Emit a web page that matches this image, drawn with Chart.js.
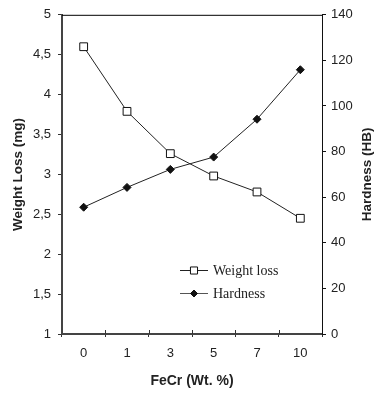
<!DOCTYPE html>
<html>
<head>
<meta charset="utf-8">
<script src="https://cdn.jsdelivr.net/npm/chart.js@4"></script>
<style>
  html, body { margin: 0; padding: 0; background: #fff; }
  #wrap { width: 376px; height: 395px; }
</style>
</head>
<body>
<div id="wrap"><canvas id="c" width="376" height="395"></canvas></div>
<script>
const categories = ['0', '1', '3', '5', '7', '10'];
const weightLoss = [4.60, 3.79, 3.26, 2.98, 2.78, 2.45];
const hardness = [55.6, 64.3, 72.2, 77.6, 94.2, 115.9];
const leftTicks = [1, 1.5, 2, 2.5, 3, 3.5, 4, 4.5, 5];
const rightTicks = [0, 20, 40, 60, 80, 100, 120, 140];

const sans = '"Liberation Sans", Arial, sans-serif';
const serif = '"Liberation Serif", "Times New Roman", serif';

const extras = {
  id: 'extras',
  afterDraw(chart) {
    const ctx = chart.ctx;
    const a = chart.chartArea;
    ctx.save();
    // top frame line
    ctx.strokeStyle = '#000';
    ctx.lineWidth = 1;
    ctx.beginPath();
    ctx.moveTo(a.left, a.top + 0.5);
    ctx.lineTo(a.right, a.top + 0.5);
    ctx.stroke();
    // inner part of x tick marks
    const step = (a.right - a.left) / categories.length;
    ctx.strokeStyle = '#333';
    for (let i = 1; i < categories.length; i++) {
      const x = Math.round(a.left + i * step) + 0.5;
      ctx.beginPath();
      ctx.moveTo(x, a.bottom);
      ctx.lineTo(x, a.bottom - 4);
      ctx.stroke();
    }
    // axis titles
    ctx.fillStyle = '#222';
    ctx.textAlign = 'center';
    ctx.textBaseline = 'middle';
    const cy = (a.top + a.bottom) / 2;
    ctx.font = 'bold 13.5px ' + sans;
    ctx.save();
    ctx.translate(18, cy);
    ctx.rotate(-Math.PI / 2);
    ctx.fillText('Weight Loss (mg)', 0, 0);
    ctx.restore();
    ctx.save();
    ctx.translate(367, cy);
    ctx.rotate(-Math.PI / 2);
    ctx.fillText('Hardness (HB)', 0, 0);
    ctx.restore();
    ctx.font = 'bold 14px ' + sans;
    ctx.fillText('FeCr (Wt. %)', (a.left + a.right) / 2, 381);
    // legend
    const items = [
      { label: 'Weight loss', y: 270, color: '#222', style: 'rect', fill: '#fff', r: 5 },
      { label: 'Hardness', y: 293, color: '#555', style: 'rectRot', fill: '#111', r: 3.5 }
    ];
    items.forEach(it => {
      ctx.strokeStyle = it.color;
      ctx.lineWidth = 1;
      ctx.beginPath();
      ctx.moveTo(180, it.y + 0.5);
      ctx.lineTo(208, it.y + 0.5);
      ctx.stroke();
      ctx.fillStyle = it.fill;
      ctx.strokeStyle = '#111';
      Chart.helpers.drawPoint(ctx, { pointStyle: it.style, radius: it.r, borderWidth: 1 }, 194, it.y + 0.5);
      ctx.fillStyle = '#222';
      ctx.font = '14px ' + serif;
      ctx.textAlign = 'left';
      ctx.fillText(it.label, 213, it.y + 1);
    });
    ctx.restore();
  }
};

new Chart(document.getElementById('c'), {
  type: 'line',
  data: {
    labels: categories,
    datasets: [
      {
        label: 'Weight loss',
        data: weightLoss,
        yAxisID: 'y',
        borderColor: '#222',
        borderWidth: 1,
        pointStyle: 'rect',
        pointRadius: 5.5,
        pointBackgroundColor: '#fff',
        pointBorderColor: '#111',
        pointBorderWidth: 1,
        tension: 0
      },
      {
        label: 'Hardness',
        data: hardness,
        yAxisID: 'y1',
        borderColor: '#222',
        borderWidth: 1,
        pointStyle: 'rectRot',
        pointRadius: 4,
        pointBackgroundColor: '#111',
        pointBorderColor: '#111',
        pointBorderWidth: 1,
        tension: 0
      }
    ]
  },
  options: {
    responsive: false,
    animation: false,
    layout: { padding: { top: 14, left: 0, right: 0, bottom: 0 } },
    plugins: { legend: { display: false }, tooltip: { enabled: false } },
    scales: {
      x: {
        type: 'category',
        offset: true,
        grid: { offset: true, drawOnChartArea: false, tickLength: 3, color: '#333' },
        border: { color: '#444', width: 2 },
        ticks: { color: '#222', font: { family: sans, size: 13 }, padding: 9, maxRotation: 0 },
        afterFit(s) { s.height = 61; }
      },
      y: {
        position: 'left',
        min: 1,
        max: 5,
        afterBuildTicks(s) { s.ticks = leftTicks.map(v => ({ value: v })); },
        grid: { drawOnChartArea: false, tickLength: 4, color: '#333' },
        border: { color: '#444', width: 2 },
        ticks: {
          color: '#222', font: { family: sans, size: 13 }, padding: 7,
          callback: v => String(v).replace('.', ',')
        },
        afterFit(s) { s.width = 62; }
      },
      y1: {
        position: 'right',
        min: 0,
        max: 140,
        afterBuildTicks(s) { s.ticks = rightTicks.map(v => ({ value: v })); },
        grid: { drawOnChartArea: false, tickLength: 4, color: '#111' },
        border: { color: '#111', width: 1 },
        ticks: { color: '#222', font: { family: sans, size: 13 }, padding: 5 },
        afterFit(s) { s.width = 54; }
      }
    }
  },
  plugins: [extras]
});
</script>
</body>
</html>
